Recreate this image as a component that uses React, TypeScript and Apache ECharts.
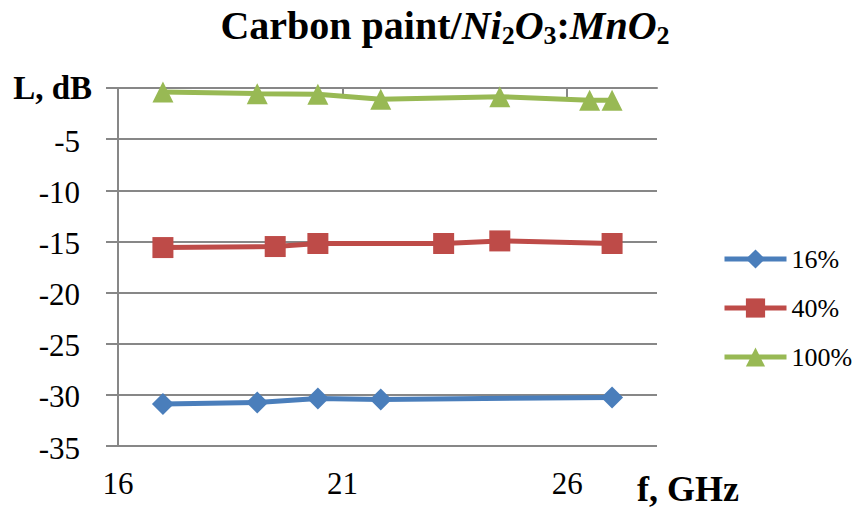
import React, { useEffect, useRef } from "react";
import * as echarts from "echarts";

const seriesNames = ["16%", "40%", "100%"];
const freq16 = [17, 19.1, 20.45, 21.85, 27];
const loss16 = [-30.9, -30.75, -30.35, -30.45, -30.25];
const freq40 = [17, 19.5, 20.45, 23.25, 24.5, 27];
const loss40 = [-15.6, -15.5, -15.2, -15.2, -14.95, -15.2];
const freq100 = [17, 19.1, 20.45, 21.85, 24.5, 26.5, 27];
const loss100 = [-0.4, -0.55, -0.6, -1.1, -0.85, -1.2, -1.2];
const xTicks = [16, 21, 26];
const yMin = -35;
const yMax = 0;
const yStep = 5;

const colors = ["#4A7EBB", "#BE4B48", "#98B954"];
const serif = "Liberation Serif";

function pairs(xs: number[], ys: number[]) {
  return xs.map((x, i) => [x, ys[i]]);
}

export default function App() {
  const ref = useRef<HTMLDivElement>(null);
  useEffect(() => {
    if (!ref.current) return;
    const chart = echarts.init(ref.current, undefined, { renderer: "svg" });
    const grey = "#878787";
    chart.setOption({
      animation: false,
      backgroundColor: "#ffffff",
      textStyle: { fontFamily: serif },
      title: {
        text: "{b|Carbon paint/}{i|Ni}{s|2}{i|O}{s|3}{b|:}{i|MnO}{s|2}",
        left: 440,
        textAlign: "center",
        top: -3,
        textStyle: {
          rich: {
            b: { fontFamily: serif, fontWeight: "bold", fontSize: 40, color: "#000", lineHeight: 46 },
            i: { fontFamily: serif, fontWeight: "bold", fontStyle: "italic", fontSize: 40, color: "#000", lineHeight: 46 },
            s: { fontFamily: serif, fontWeight: "bold", fontSize: 26, color: "#000", lineHeight: 25, verticalAlign: "bottom" },
          },
        },
      },
      legend: {
        orient: "vertical",
        left: 717,
        top: 241,
        itemWidth: 62,
        itemHeight: 24,
        itemGap: 23,
        data: seriesNames,
        lineStyle: { width: 5 },
        textStyle: { fontFamily: serif, fontWeight: "normal", fontSize: 26, color: "#000" },
      },
      grid: { left: 118, right: 199, top: 88, bottom: 63 },
      graphic: [
        {
          type: "text",
          left: 637,
          top: 471,
          style: {
            text: "f, GHz",
            fontFamily: serif,
            fontWeight: "bold",
            fontSize: 36,
            fill: "#000",
          },
        },
      ],
      xAxis: {
        type: "value",
        min: 16,
        max: 28,
        axisLine: { show: true, lineStyle: { color: grey, width: 2 } },
        axisTick: { show: true, length: 10, customValues: xTicks, lineStyle: { color: grey, width: 2 } },
        axisLabel: { customValues: xTicks, fontFamily: serif, fontWeight: "normal", fontSize: 31, color: "#000", margin: 22 },
        splitLine: { show: false },
      },
      yAxis: {
        type: "value",
        min: yMin,
        max: yMax,
        interval: yStep,
        axisLine: { show: true, lineStyle: { color: grey, width: 2 } },
        axisTick: { show: true, length: 12, lineStyle: { color: grey, width: 2 } },
        axisLabel: {
          margin: 26,
          fontFamily: serif,
          formatter: (v: number) => (v === 0 ? "{t|L, dB}" : "{n|" + v + "}"),
          rich: {
            t: { fontFamily: serif, fontWeight: "bold", fontSize: 33, color: "#000" },
            n: { fontFamily: serif, fontWeight: "normal", fontSize: 31, color: "#000", padding: [4, 12, 0, 0] },
          },
        },
        splitLine: { show: true, lineStyle: { color: grey, width: 2 } },
      },
      series: [
        {
          name: seriesNames[0],
          type: "line",
          data: pairs(freq16, loss16),
          symbol: "diamond",
          symbolSize: 22,
          itemStyle: { color: colors[0] },
          lineStyle: { color: colors[0], width: 5 },
        },
        {
          name: seriesNames[1],
          type: "line",
          data: pairs(freq40, loss40),
          symbol: "rect",
          symbolSize: 21,
          itemStyle: { color: colors[1] },
          lineStyle: { color: colors[1], width: 5 },
        },
        {
          name: seriesNames[2],
          type: "line",
          data: pairs(freq100, loss100),
          symbol: "triangle",
          symbolSize: 21,
          itemStyle: { color: colors[2] },
          lineStyle: { color: colors[2], width: 5 },
        },
      ],
    });
    return () => chart.dispose();
  }, []);
  return (
    <div
      ref={ref}
      style={{ position: "fixed", left: 0, top: 0, width: 856, height: 509, background: "#fff" }}
    />
  );
}
